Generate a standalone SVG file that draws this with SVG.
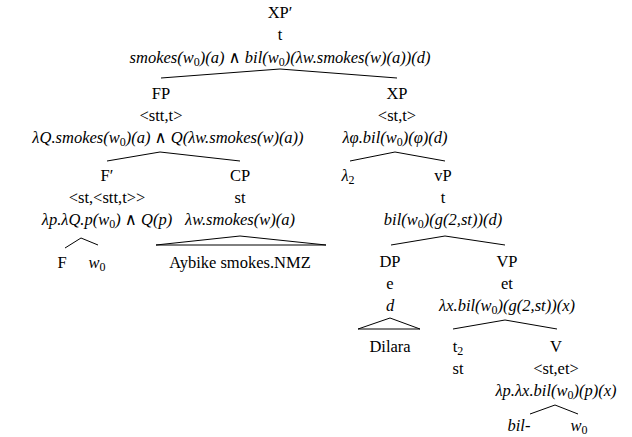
<svg xmlns="http://www.w3.org/2000/svg" width="632" height="437" viewBox="0 0 632 437">
<style>
text{font-family:'Liberation Serif','Times New Roman','DejaVu Serif',serif;font-size:16.5px;fill:#000;text-anchor:middle}
.m{font-style:italic}
.u{font-style:normal}
.s{font-size:12px;baseline-shift:-3px}
.e{stroke:#000;stroke-width:1;fill:none}
</style>
<rect width="632" height="437" fill="#fff"/>
<g id="XPp"><text x="280" y="18">XP′</text><text x="280" y="40">t</text>
<text x="280" y="63" class="m">smokes(w<tspan class="s u">0</tspan><tspan>)(a) </tspan><tspan class="u">∧</tspan> bil(w<tspan class="s u">0</tspan><tspan>)(λw.smokes(w)(a))(d)</tspan></text></g>
<g id="FP"><text x="161" y="99">FP</text><text x="161" y="121">&lt;stt,t&gt;</text>
<text x="168" y="143" class="m">λQ.smokes(w<tspan class="s u">0</tspan><tspan>)(a) </tspan><tspan class="u">∧</tspan> Q(λw.smokes(w)(a))</text></g>
<g id="XP"><text x="397" y="99">XP</text><text x="397" y="121">&lt;st,t&gt;</text>
<text x="395" y="143" class="m">λφ.bil(w<tspan class="s u">0</tspan><tspan>)(φ)(d)</tspan></text></g>
<g id="Fp"><text x="107" y="181">F′</text><text x="107" y="203">&lt;st,&lt;stt,t&gt;&gt;</text>
<text x="107" y="225" class="m">λp.λQ.p(w<tspan class="s u">0</tspan><tspan>) </tspan><tspan class="u">∧</tspan> Q(p)</text></g>
<g id="F"><text x="62" y="268">F</text></g>
<g id="w0a"><text x="97" y="268" class="m">w<tspan class="s u">0</tspan></text></g>
<g id="CP"><text x="240" y="181">CP</text><text x="240" y="203">st</text>
<text x="240" y="225" class="m">λw.smokes(w)(a)</text></g>
<g id="Aybike"><text x="240" y="268">Aybike smokes.NMZ</text></g>
<g id="lambda2"><text x="348" y="181" class="m">λ<tspan class="s u">2</tspan></text></g>
<g id="vP"><text x="443" y="181">vP</text><text x="443" y="203">t</text>
<text x="443" y="225" class="m">bil(w<tspan class="s u">0</tspan><tspan>)(g(2,st))(d)</tspan></text></g>
<g id="DP"><text x="390" y="267">DP</text><text x="390" y="289">e</text><text x="390" y="311" class="m">d</text></g>
<g id="Dilara"><text x="390" y="352">Dilara</text></g>
<g id="VP"><text x="507" y="267">VP</text><text x="507" y="289">et</text>
<text x="507" y="311" class="m">λx.bil(w<tspan class="s u">0</tspan><tspan>)(g(2,st))(x)</tspan></text></g>
<g id="t2"><text x="458" y="352">t<tspan class="s">2</tspan></text><text x="458" y="374">st</text></g>
<g id="V"><text x="556" y="352">V</text><text x="556" y="374">&lt;st,et&gt;</text>
<text x="556" y="396" class="m">λp.λx.bil(w<tspan class="s u">0</tspan><tspan>)(p)(x)</tspan></text></g>
<g id="bil"><text x="519" y="431" class="m">bil-</text></g>
<g id="w0b"><text x="579" y="431" class="m">w<tspan class="s u">0</tspan></text></g>
<g id="connectors" class="e">
<polyline class="e" points="161,78 280,69 397,78"/>
<polyline class="e" points="107,161 160,152 240,161"/>
<polyline class="e" points="350,161 395,152 445,161"/>
<polyline class="e" points="65,248 81,238 98,245"/>
<polygon class="e" points="156,245 240,236 326,245"/>
<polyline class="e" points="391,245 445,236 505,245"/>
<polygon class="e" points="358,329 390,318 420,329"/>
<polyline class="e" points="453,329 505,320 557,329"/>
<polyline class="e" points="530,414 555,405 578,414"/>
</g>
</svg>
